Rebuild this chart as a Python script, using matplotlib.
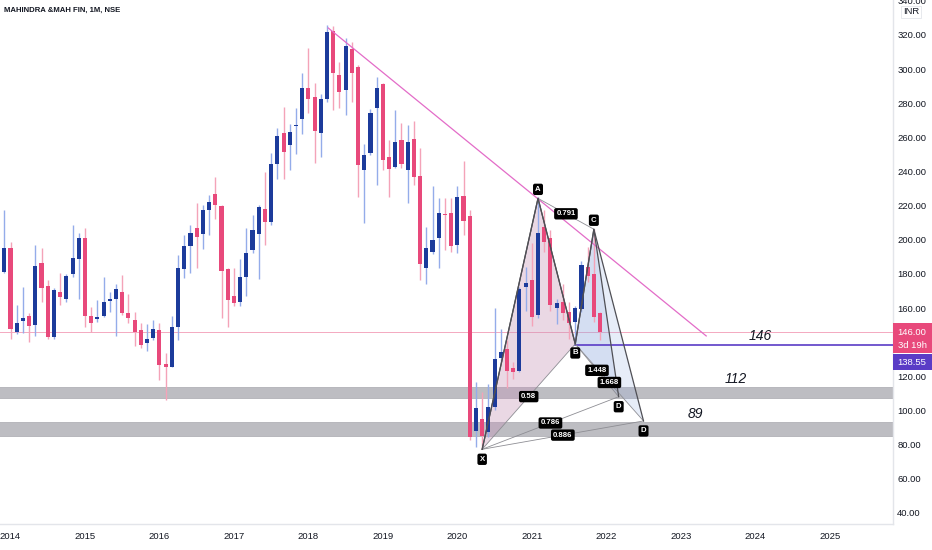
import matplotlib
matplotlib.use('Agg')
import matplotlib.pyplot as plt
from matplotlib.patches import Rectangle, Polygon
from matplotlib.transforms import blended_transform_factory

plt.rcParams['font.family'] = ['Liberation Sans', 'DejaVu Sans']

# ---------------- data (monthly candles, Dec 2013 .. Dec 2021) ----------------
opens = [181.2, 195.2, 146.2, 152.3, 155.4, 150.1, 186.4, 173.0, 143.3, 169.6,
         165.2, 180.0, 189.0, 201.1, 155.6, 153.4, 155.4, 164.4, 165.2, 169.6,
         157.1, 153.2, 147.2, 139.4, 142.7, 147.2, 127.1, 125.7, 149.1, 182.7,
         196.6, 206.7, 203.4, 217.5, 226.9, 219.8, 182.7, 167.3, 163.8, 178.0,
         194.1, 203.4, 217.9, 210.3, 244.4, 262.4, 255.6, 266.5, 270.6, 289.0,
         283.5, 262.4, 282.3, 322.5, 296.6, 287.8, 311.6, 301.4, 241.0, 251.1,
         277.4, 291.1, 248.7, 242.5, 258.5, 240.9, 258.9, 237.4, 183.3, 192.7,
         200.9, 215.3, 215.5, 197.0, 225.9, 214.0, 88.2, 95.1, 87.6, 101.9,
         130.6, 136.1, 124.7, 123.2, 172.2, 176.5, 156.0, 207.3, 200.9, 159.9,
         163.8, 157.9, 152.1, 159.3, 184.3, 180.0, 156.9]
highs = [217.5, 198.9, 161.8, 172.5, 157.3, 197.0, 195.0, 176.5, 171.6, 180.4,
         179.8, 208.7, 204.2, 206.7, 160.9, 164.8, 178.1, 169.6, 174.1, 179.2,
         168.1, 157.9, 151.1, 150.7, 153.0, 151.1, 133.9, 155.4, 191.1, 202.8,
         208.7, 221.8, 220.4, 226.3, 237.0, 220.2, 183.3, 183.3, 188.8, 206.7,
         214.6, 220.4, 240.0, 250.7, 265.3, 277.6, 267.9, 277.0, 297.9, 312.2,
         292.1, 285.4, 325.9, 325.3, 304.4, 318.1, 316.1, 302.5, 256.1, 276.5,
         295.2, 291.7, 258.5, 276.1, 268.6, 267.3, 269.8, 253.6, 207.7, 231.5,
         224.3, 224.3, 224.3, 231.5, 246.4, 217.5, 116.9, 111.1, 115.6, 159.9,
         147.6, 141.3, 128.6, 172.2, 183.9, 198.3, 224.9, 217.5, 205.8, 165.2,
         174.1, 163.8, 161.2, 187.8, 196.0, 206.2, 157.5]
lows = [180.4, 141.7, 144.8, 145.6, 140.0, 143.9, 163.8, 141.7, 141.7, 161.8,
        163.4, 178.4, 165.2, 149.1, 146.2, 152.1, 155.0, 157.9, 143.7, 156.0,
        151.1, 137.8, 136.5, 135.1, 141.3, 117.9, 106.2, 125.3, 141.3, 177.5,
        180.8, 183.3, 194.4, 202.8, 212.0, 154.0, 149.1, 161.2, 161.4, 167.1,
        192.5, 176.9, 197.0, 208.7, 235.4, 235.4, 240.9, 250.1, 261.8, 274.1,
        244.8, 248.7, 281.0, 276.1, 277.0, 273.1, 281.0, 225.3, 209.7, 249.7,
        232.1, 240.9, 225.3, 242.0, 241.9, 221.4, 232.1, 176.5, 174.1, 191.5,
        183.3, 194.0, 193.1, 192.5, 202.8, 83.0, 78.8, 77.3, 84.7, 100.3,
        128.6, 113.0, 118.3, 122.8, 158.5, 149.5, 154.0, 193.0, 158.5, 150.7,
        153.1, 141.7, 138.4, 157.9, 175.5, 152.0, 141.3]
closes = [195.2, 147.8, 151.5, 154.0, 149.7, 184.7, 171.8, 143.3, 170.6, 166.7,
          179.0, 189.2, 201.1, 155.6, 151.1, 155.0, 163.4, 165.2, 171.2, 157.3,
          154.0, 145.8, 138.4, 142.1, 147.8, 126.7, 125.7, 148.9, 183.3, 196.6,
          203.8, 201.5, 217.5, 222.2, 220.4, 182.0, 164.8, 162.8, 178.0, 192.5,
          205.8, 219.0, 210.3, 244.4, 260.8, 251.5, 263.4, 267.3, 288.8, 282.3,
          264.0, 282.5, 322.0, 297.6, 286.8, 313.6, 297.5, 243.8, 249.7, 274.1,
          289.0, 246.8, 241.5, 257.1, 244.4, 257.5, 237.0, 185.8, 195.0, 199.9,
          215.5, 214.3, 196.6, 225.3, 211.0, 84.7, 101.3, 85.1, 101.9, 130.2,
          134.5, 123.2, 122.4, 171.0, 174.9, 154.6, 203.8, 198.9, 161.8, 162.8,
          156.9, 151.5, 160.3, 185.3, 178.6, 155.0, 146.0]

year_labels = ['2014', '2015', '2016', '2017', '2018', '2019',
               '2020', '2021', '2022', '2023', '2024', '2025']
price_ticks = [40, 60, 80, 100, 120, 140, 160, 180, 200, 220, 240, 260, 280, 300, 320, 340]
# labelled y-ticks exclude 140 (hidden by price labels in the reference)
shown_ticks = [40, 60, 80, 100, 120, 160, 180, 200, 220, 240, 260, 280, 300, 320, 340]

# harmonic pattern points (month index, price)
pat_X = (77, 77.3)
pat_A = (86, 224.3)
pat_B = (92, 139.0)
pat_C = (95, 206.2)
pat_D1 = (99, 108.1)
pat_D2 = (103, 93.9)
ratio_xb, ratio_ac, ratio_bd1, ratio_bd2, ratio_xd1, ratio_xd2 = '0.58', '0.791', '1.448', '1.668', '0.786', '0.886'

# support zones and levels
zone_upper = (107.3, 113.8)
zone_lower = (85.1, 93.5)
level_146 = 138.55
trend_start = (52.2, 324.1)
trend_end = (113.1, 143.7)

# ---------------- figure ----------------
W, H = 932, 550
fig = plt.figure(figsize=(W / 100, H / 100), dpi=100)
fig.patch.set_facecolor('white')
ax = fig.add_axes([0, 26 / H, 893 / W, 524 / H])
ax.set_facecolor('white')
ax.set_xlim(-0.693, 143.2)
ax.set_ylim(33.53, 340.5)

# zones
for lo, hi in (zone_upper, zone_lower):
    ax.add_patch(Rectangle((-5, lo), 160, hi - lo, facecolor='#bdbdc2',
                           edgecolor='#a9a9ae', lw=0.5, zorder=1))

# price line (last close)
ax.axhline(closes[-1], color='#f4a9c0', lw=0.7, zorder=2)

# pattern fills
for D in (pat_D1, pat_D2):
    ax.add_patch(Polygon([pat_X, pat_A, pat_B], closed=True,
                         facecolor=(0.78, 0.58, 0.72), alpha=0.2, lw=0, zorder=2))
    ax.add_patch(Polygon([pat_B, pat_C, D], closed=True,
                         facecolor=(0.58, 0.68, 0.88), alpha=0.22, lw=0, zorder=2))

# candles
for i, (o, h, l, c) in enumerate(zip(opens, highs, lows, closes)):
    up = c >= o
    body = '#1c3b9b' if up else '#e8497b'
    wick = '#94acea' if up else '#f4a3b8'
    ax.vlines(i, l, h, color=wick, lw=1.0, zorder=3)
    bot = min(o, c)
    ht = max(abs(c - o), 0.7)
    ax.add_patch(Rectangle((i - 0.33, bot), 0.66, ht, facecolor=body,
                           edgecolor='none', zorder=4))

# trend line
ax.plot([trend_start[0], trend_end[0]], [trend_start[1], trend_end[1]],
        color='#e36cc8', lw=0.9, zorder=5)

# purple horizontal level
ax.plot([pat_B[0], 150], [level_146, level_146], color='#5a3cc6', lw=1.2, zorder=5)

# pattern thin ratio lines
thin = dict(color='#8e8e94', lw=0.6, zorder=6)
for p, q in ((pat_X, pat_B), (pat_A, pat_C), (pat_B, pat_D1), (pat_B, pat_D2),
             (pat_X, pat_D1), (pat_X, pat_D2)):
    ax.plot([p[0], q[0]], [p[1], q[1]], **thin)
# pattern legs
for D in (pat_D1, pat_D2):
    pts = [pat_X, pat_A, pat_B, pat_C, D]
    ax.plot([p[0] for p in pts], [p[1] for p in pts], color='#4f4f55', lw=0.9, zorder=6)

box = dict(boxstyle='round,pad=0.28,rounding_size=0.25', facecolor='black', edgecolor='none')


def mid(p, q):
    return ((p[0] + q[0]) / 2, (p[1] + q[1]) / 2)


for (p, q), t in (((pat_X, pat_B), ratio_xb), ((pat_A, pat_C), ratio_ac),
                  ((pat_B, pat_D1), ratio_bd1), ((pat_B, pat_D2), ratio_bd2),
                  ((pat_X, pat_D1), ratio_xd1), ((pat_X, pat_D2), ratio_xd2)):
    m = mid(p, q)
    ax.text(m[0], m[1], t, color='white', fontsize=5.6, fontweight='bold',
            ha='center', va='center', bbox=box, zorder=8)

for p, t, dy in ((pat_X, 'X', -10), (pat_A, 'A', 9), (pat_B, 'B', -9),
                 (pat_C, 'C', 9), (pat_D1, 'D', -10), (pat_D2, 'D', -10)):
    ax.annotate(t, xy=p, xytext=(0, dy), textcoords='offset pixels',
                color='white', fontsize=5.6, fontweight='bold', ha='center',
                va='center', bbox=box, zorder=8)

# level texts
ax.annotate('146', xy=(121.8, level_146), xytext=(0, 2), textcoords='offset pixels',
            fontsize=10, style='italic', ha='center', va='bottom', color='#131722', zorder=7)
ax.annotate('112', xy=(117.8, zone_upper[1]), xytext=(0, 1), textcoords='offset pixels',
            fontsize=10, style='italic', ha='center', va='bottom', color='#131722', zorder=7)
ax.annotate('89', xy=(111.3, zone_lower[1]), xytext=(0, 1), textcoords='offset pixels',
            fontsize=10, style='italic', ha='center', va='bottom', color='#131722', zorder=7)

# axes styling
for s in ('top', 'left'):
    ax.spines[s].set_visible(False)
for s in ('right', 'bottom'):
    ax.spines[s].set_color('#e3e5ea')
    ax.spines[s].set_linewidth(1.0)
ax.yaxis.tick_right()
ax.set_yticks(shown_ticks)
ax.set_yticklabels([f'{v:.2f}' for v in shown_ticks])
ax.tick_params(axis='y', length=0, pad=3, labelsize=6.8, labelcolor='#131722')
ax.set_xticks([1 + 12 * k for k in range(len(year_labels))])
ax.set_xticklabels(year_labels)
ax.tick_params(axis='x', length=0, pad=6, labelsize=6.8, labelcolor='#131722')

# title
fig.text(4 / W, 1 - 10 / H, 'MAHINDRA &MAH FIN, 1M, NSE', fontsize=5.6,
         color='#131722', ha='left', va='center', fontweight='bold')

# INR tag
fig.text(911 / W, 1 - 12 / H, 'INR', fontsize=6.8, color='#131722', ha='center', va='center',
         bbox=dict(boxstyle='square,pad=0.15', facecolor='white', edgecolor='#e3e5ea', lw=0.6))

# price tags on the right axis
fig.canvas.draw()
yp = ax.transData.transform((0, closes[-1]))[1]
fig.add_artist(Rectangle((893, yp - 21), 39, 30, transform=None, facecolor='#e8497b',
                         edgecolor='none', zorder=10))
fig.text(912 / W, (yp) / H, f'{closes[-1]:.2f}', fontsize=6.8, color='white',
         ha='center', va='center', zorder=11)
fig.text(912 / W, (yp - 13) / H, '3d 19h', fontsize=6.8, color='white',
         ha='center', va='center', zorder=11)
fig.add_artist(Rectangle((893, yp - 38), 39, 16, transform=None, facecolor='#5a3cc6',
                         edgecolor='none', zorder=10))
fig.text(912 / W, (yp - 30) / H, f'{level_146:.2f}', fontsize=6.8, color='white',
         ha='center', va='center', zorder=11)

fig.savefig('out.png', dpi=100, facecolor='white')
